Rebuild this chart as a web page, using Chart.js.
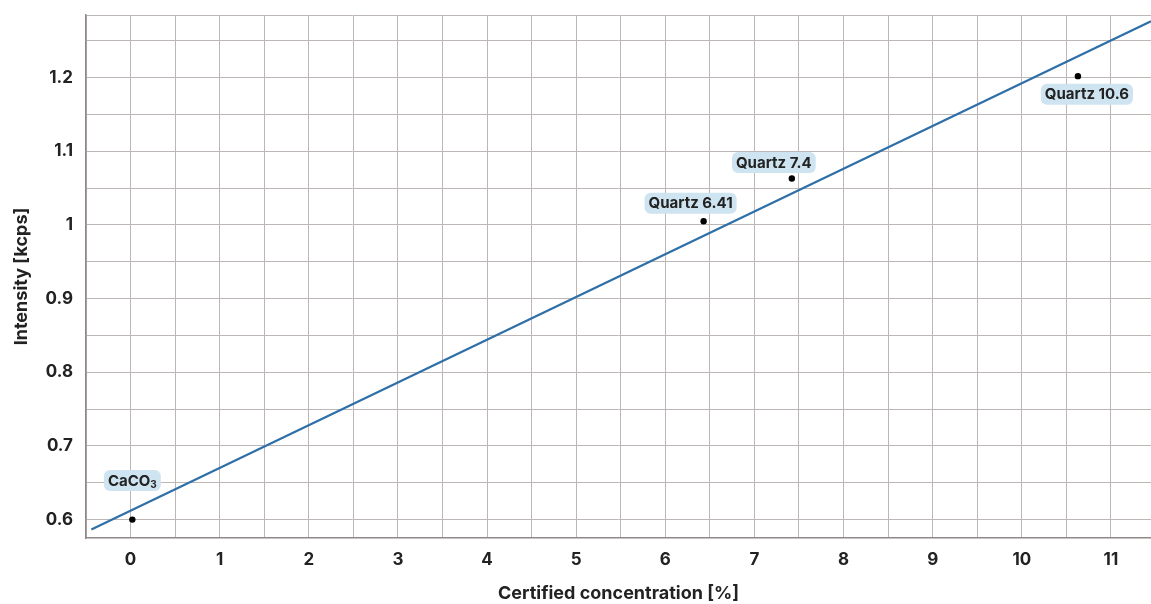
<!DOCTYPE html>
<html>
<head>
<meta charset="utf-8">
<script src="https://cdn.jsdelivr.net/npm/chart.js@4"></script>
<style>
  html, body { margin: 0; padding: 0; background: #fff; overflow: hidden; }
  /* 4px wider than the window: the plot runs to the right edge */
  #wrap { width: 1155px; height: 604px; position: relative; }
</style>
</head>
<body>
<div id="wrap"><canvas id="chart"></canvas></div>
<script>
"use strict";

/* ---------------- DATA ---------------- */

const xTickLabels = [0, 1, 2, 3, 4, 5, 6, 7, 8, 9, 10, 11];
const yTickLabels = [0.6, 0.7, 0.8, 0.9, 1, 1.1, 1.2];

const sampleNames = ["CaCO3", "Quartz 6.41", "Quartz 7.4", "Quartz 10.6"];
const concentration = [0.02, 6.43, 7.42, 10.63];
const intensity = [0.6, 1.005, 1.063, 1.202];

// calibration line, endpoints
const fitX = [-0.44, 11.45];
const fitY = [0.5864, 1.2766];

/* ---------------- STYLE ---------------- */

const FONT = "Inter, 'Liberation Sans', Arial, sans-serif";
const GRID = "#bdb6b6";
const AXIS = "#8e8888";
const INK = "#222222";
const LINE_BLUE = "#2f6fa8";
const TAG_BG = "#cfe4f1";

// where each tag box sits relative to its point (px)
const tagOffsets = [[0, -39], [-13, -18], [-18, -16], [9, 18]];

const X_MIN = -0.5, X_MAX = 11.45;
const Y_MIN = 0.575, Y_MAX = 1.285;

function stepTicks(min, max, step) {
  const out = [];
  const start = Math.ceil(min / step - 1e-9) * step;
  for (let v = start; v <= max + 1e-9; v += step) out.push({ value: Math.round(v * 1000) / 1000 });
  return out;
}

function isLabelled(v, list) {
  return list.some(t => Math.abs(t - v) < 1e-6);
}

// no extra room for overhanging tick labels
function noOverhang(s) {
  s.paddingTop = 0;
  s.paddingBottom = 0;
  s.paddingLeft = 0;
  s.paddingRight = 0;
}

/* ---------------- TAG PLUGIN ---------------- */

function drawTagText(ctx, text, x, y) {
  // "CaCO3" gets a subscript 3
  const m = /^(CaCO)(3)$/.exec(text);
  if (!m) {
    ctx.fillText(text, x, y);
    return;
  }
  ctx.fillText(m[1], x, y);
  const w = ctx.measureText(m[1]).width;
  const saved = ctx.font;
  ctx.font = "bold 10px " + FONT;
  ctx.fillText(m[2], x + w, y + 4);
  ctx.font = saved;
}

const sampleTags = {
  id: "sampleTags",
  afterDatasetsDraw(chart) {
    const { ctx } = chart;
    const meta = chart.getDatasetMeta(1);
    ctx.save();
    ctx.font = "bold 15px " + FONT;
    ctx.textBaseline = "middle";
    ctx.textAlign = "left";
    meta.data.forEach((pt, i) => {
      const name = sampleNames[i];
      const [dx, dy] = tagOffsets[i];
      const cx = pt.x + dx, cy = pt.y + dy;
      let w;
      if (name === "CaCO3") {
        w = ctx.measureText("CaCO").width;
        ctx.font = "bold 10px " + FONT;
        w += ctx.measureText("3").width;
        ctx.font = "bold 15px " + FONT;
      } else {
        w = ctx.measureText(name).width;
      }
      const bw = w + 8, bh = 21;
      ctx.fillStyle = TAG_BG;
      ctx.beginPath();
      ctx.roundRect(cx - bw / 2, cy - bh / 2, bw, bh, 6);
      ctx.fill();
      ctx.fillStyle = INK;
      drawTagText(ctx, name, cx - w / 2, cy + 0.5);
    });
    ctx.restore();
  },
};

/* ---------------- CHART ---------------- */

const fitPoints = fitX.map((x, i) => ({ x, y: fitY[i] }));
const samplePoints = concentration.map((x, i) => ({ x, y: intensity[i] }));

new Chart(document.getElementById("chart"), {
  type: "scatter",
  data: {
    datasets: [
      {
        data: fitPoints,
        showLine: true,
        borderColor: LINE_BLUE,
        borderWidth: 2.2,
        pointRadius: 0,
        fill: false,
      },
      {
        data: samplePoints,
        backgroundColor: "#000",
        borderWidth: 0,
        pointRadius: 3.2,
      },
    ],
  },
  options: {
    responsive: true,
    maintainAspectRatio: false,
    animation: false,
    layout: { padding: { top: 15, right: 0, left: 0, bottom: 0 } },
    plugins: {
      legend: { display: false },
      tooltip: { enabled: false },
    },
    scales: {
      x: {
        type: "linear",
        min: X_MIN,
        max: X_MAX,
        afterBuildTicks: s => { s.ticks = stepTicks(X_MIN, X_MAX, 0.5); },
        afterFit: s => { s.height = 66; noOverhang(s); },
        grid: { color: GRID, lineWidth: 1, drawTicks: false },
        border: { color: AXIS, width: 1.5 },
        ticks: {
          color: INK,
          padding: 12,
          maxRotation: 0,
          autoSkip: false,
          font: { family: FONT, size: 17, weight: "bold" },
          callback: v => (isLabelled(v, xTickLabels) ? String(v) : ""),
        },
        title: {
          display: true,
          text: "Certified concentration [%]",
          color: INK,
          padding: { top: 0, bottom: 0 },
          font: { family: FONT, size: 18, weight: "bold" },
        },
      },
      y: {
        type: "linear",
        min: Y_MIN,
        max: Y_MAX,
        afterBuildTicks: s => { s.ticks = stepTicks(Y_MIN, Y_MAX, 0.05).concat([{ value: Y_MAX }]); },
        afterFit: s => { s.width = 86; noOverhang(s); },
        grid: { color: GRID, lineWidth: 1, drawTicks: false },
        border: { color: AXIS, width: 1.5 },
        ticks: {
          color: INK,
          padding: 13,
          autoSkip: false,
          font: { family: FONT, size: 17, weight: "bold" },
          callback: v => (isLabelled(v, yTickLabels) ? String(v) : ""),
        },
        title: {
          display: true,
          text: "Intensity [kcps]",
          color: INK,
          padding: { top: 11, bottom: 0 },
          font: { family: FONT, size: 18, weight: "bold" },
        },
      },
    },
  },
  plugins: [sampleTags],
});
</script>
</body>
</html>
